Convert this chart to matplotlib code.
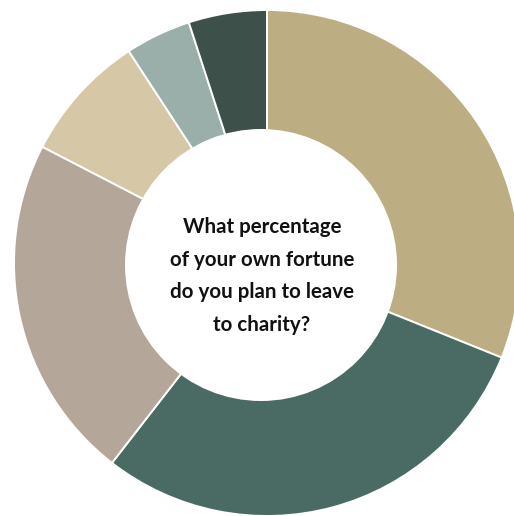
import matplotlib
matplotlib.use("Agg")
import matplotlib.pyplot as plt
from matplotlib.patches import Circle

# Share of fortune respondents plan to leave to charity
categories = ["A", "B", "C", "D", "E", "F"]
values = [31.1, 29.4, 22.1, 8.2, 4.2, 5.0]
colors = ["#BDAD82", "#4A6B63", "#B5A69A", "#D6C7A7", "#9AAFAA", "#3D5049"]
question = "What percentage\nof your own fortune\ndo you plan to leave\nto charity?"

W, H = 514, 516
cx, cy, R = 267, 263, 253      # pixel centre and outer radius of the ring
hx, hy, hr = 261, 265, 136     # pixel centre and radius of the hole

fig = plt.figure(figsize=(W / 100, H / 100), dpi=100)
ax = fig.add_axes([0, 0, 1, 1])
ax.pie(values, colors=colors, startangle=90, counterclock=False, radius=1.0,
       wedgeprops=dict(edgecolor="white", linewidth=1.4))
ax.add_patch(Circle(((hx - cx) / R, -(hy - cy) / R), hr / R,
                    facecolor="white", edgecolor="none", zorder=5))
ax.set_xlim(-cx / R, (W - cx) / R)
ax.set_ylim(-(H - cy) / R, cy / R)
ax.set_aspect("auto")
ax.axis("off")

ax.text((262 - cx) / R, -(276 - cy) / R, question, ha="center", va="center",
        fontsize=14.8, family=["Lato", "DejaVu Sans"], fontweight="bold",
        color="#111111", linespacing=1.8, zorder=6)

fig.savefig("out.png", dpi=100)
